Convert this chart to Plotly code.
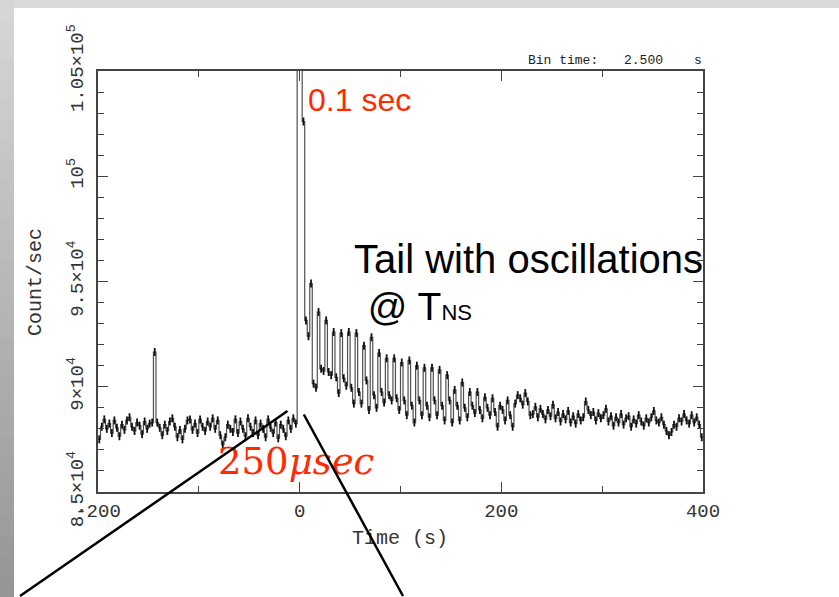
import plotly.graph_objects as go

# ---------------- data ----------------
bin_time = 2.5
t_start = -200.0
# count rates per 2.5 s bin, t = -200 ... 0  (last bin is the saturated peak)
pre_burst = [
    87500, 88100, 88450, 88000, 88250, 87800, 88400, 88050, 87650, 88200,
    87950, 88400, 88550, 88100, 87900, 88300, 88150, 87750, 88350, 88000,
    88250, 88300, 91650, 88300, 88050, 87700, 88200, 87900, 88350, 88500,
    88100, 87600, 87950, 87500, 88000, 88400, 88450, 87950, 88250, 87800,
    88450, 88100, 87900, 88350, 88100, 88500, 88000, 88400, 87700, 87250,
    87600, 88200, 88000, 87850, 88450, 87800, 88350, 88000, 87650, 88500,
    88100, 87800, 88400, 87700, 88250, 88000, 87600, 88450, 88050, 87800,
    88300, 87550, 88200, 88000, 87650, 88400, 88000, 88500, 88250, 150000,
]
# t = 0 ... 400
tail = [
    150000, 102600, 93150, 92400, 94900, 90150, 89950, 93550, 90850, 90750,
    93150, 90700, 90550, 92600, 90450, 89700, 92550, 90400, 90050, 92600,
    89950, 89200, 92550, 89750, 89200, 91950, 90300, 88900, 92350, 89600,
    89000, 91600, 89750, 89250, 91350, 89600, 89350, 91350, 89450, 88900,
    91150, 89350, 88650, 91250, 89100, 88300, 91000, 89350, 88650, 90900,
    89100, 88550, 90900, 89350, 88650, 90800, 89100, 88400, 90550, 89350,
    88300, 89850, 89100, 88400, 90200, 89000, 88550, 89750, 89100, 88750,
    89750, 88900, 88500, 89500, 89000, 88650, 89450, 88800, 88100, 89100,
    88900, 88400, 89350, 88650, 88100, 89200, 89600, 89450, 89150, 89700,
    89300, 88650, 88700, 89050, 88550, 88950, 88700, 88450, 88900, 88600,
    89150, 88500, 88800, 88350, 88700, 88450, 88850, 88300, 88600, 88250,
    88700, 88400, 88550, 89300, 88900, 88650, 88800, 88400, 88750, 88500,
    88650, 88950, 88350, 88600, 88150, 88550, 88300, 88700, 88200, 88500,
    88600, 88100, 88450, 88250, 88650, 88350, 88150, 88500, 88300, 88550,
    88850, 88400, 88300, 88550, 88200, 87900, 87700, 87850, 88200, 88100,
    88500, 88350, 88700, 88400, 88250, 88650, 88300, 88550, 88200, 87600,
]
rate_error = 190  # approximate 1-sigma error per bin (count/s)

x_tickvals = [-200, 0, 200, 400]
x_ticktext = ["-200", "0", "200", "400"]
x_minor_vals = [-100, 100, 300]
y_tickvals = [85000, 90000, 95000, 100000, 105000]
y_ticktext = ["8.5×10<sup>4</sup>", "9×10<sup>4</sup>", "9.5×10<sup>4</sup>",
              "10<sup>5</sup>", "1.05×10<sup>5</sup>"]
y_minor_vals = [v for v in range(86000, 105000, 1000) if v % 5000 != 0]

# ---------------- build ----------------
rates = pre_burst + tail
edges = [t_start + bin_time * i for i in range(len(rates) + 1)]
centers = [t_start + bin_time * (i + 0.5) for i in range(len(rates))]

W, H = 839, 597
L, R, T, B = 98, 703, 71, 492


def px(xp):
    return (xp - L) / (R - L)


def py(yp):
    return (B - yp) / (B - T)


mono = "Liberation Mono"
fig = go.Figure()
fig.add_trace(go.Scatter(
    x=edges, y=rates + [rates[-1]], mode="lines", line_shape="hv",
    line=dict(color="#505050", width=1.2), hoverinfo="skip", showlegend=False))
fig.add_trace(go.Scatter(
    x=centers, y=rates, mode="markers",
    marker=dict(size=1, color="black"),
    error_y=dict(type="constant", value=rate_error, width=0, thickness=1.8, color="#111"),
    hoverinfo="skip", showlegend=False))

axis_common = dict(showgrid=False, zeroline=False, showline=True, linecolor="#444",
                   linewidth=1.5, mirror="ticks", ticks="inside", tickcolor="#444",
                   tickwidth=1.3, tickfont=dict(family=mono, size=19, color="#333"))
fig.update_xaxes(range=[-200, 400], tickmode="array", tickvals=x_tickvals,
                 ticktext=x_ticktext, ticklen=10,
                 minor=dict(ticks="inside", tickmode="array", tickvals=x_minor_vals,
                            ticklen=6, tickcolor="#444", tickwidth=1.3),
                 **axis_common)
fig.update_yaxes(range=[85000, 105000], tickmode="array", tickvals=y_tickvals,
                 ticktext=y_ticktext, tickangle=-90, ticklen=10, ticklabelstandoff=6,
                 minor=dict(ticks="inside", tickmode="array", tickvals=y_minor_vals,
                            ticklen=6, tickcolor="#444", tickwidth=1.3),
                 **axis_common)

ann = []
ann.append(dict(x=px(526), y=py(61), text="Bin time:", xanchor="left", yanchor="middle",
                font=dict(family=mono, size=13, color="#222")))
ann.append(dict(x=px(622), y=py(61), text="2.500", xanchor="left", yanchor="middle",
                font=dict(family=mono, size=13, color="#222")))
ann.append(dict(x=px(704), y=py(61), text="s", xanchor="right", yanchor="middle",
                font=dict(family=mono, size=13, color="#222")))
ann.append(dict(x=px(35), y=py(282), text="Count/sec", textangle=-90, xanchor="center",
                yanchor="middle", font=dict(family=mono, size=20, color="#333")))
ann.append(dict(x=px(400), y=py(538), text="Time (s)", xanchor="center", yanchor="middle",
                font=dict(family=mono, size=20, color="#333")))
ann.append(dict(x=px(306), y=py(100), text="0.1 sec", xanchor="left", yanchor="middle",
                font=dict(family="Liberation Sans", size=32, color="#ff2a00")))
ann.append(dict(x=px(352), y=py(259), text="Tail with oscillations", xanchor="left",
                yanchor="middle", font=dict(family="Liberation Sans", size=40, color="black")))
ann.append(dict(x=px(355), y=py(306),
                text=" @ T<span style='font-size:22px'>NS</span>", xanchor="left",
                yanchor="middle", font=dict(family="Liberation Sans", size=39, color="black")))
ann.append(dict(x=px(216), y=py(461), text="250<i>μsec</i>", xanchor="left",
                yanchor="middle", font=dict(family="DejaVu Serif", size=37, color="#ff2a00")))
for a in ann:
    a.update(xref="paper", yref="paper", showarrow=False)

# zoom lines drawn as arrow-less annotation connectors (not clipped to the plot area)
zoom_lines = [((289, 410), (20, 597)), ((303, 413), (403, 597))]
for (x0, y0), (x1, y1) in zoom_lines:
    ann.append(dict(x=px(x1), y=py(y1), xref="paper", yref="paper", text="",
                    showarrow=True, arrowhead=0, arrowwidth=2.5, arrowcolor="black",
                    axref="pixel", ayref="pixel", ax=x0 - x1, ay=y0 - y1, standoff=0,
                    startstandoff=0))

# slide frame: light top strip and a left strip darkening downward
shapes = []
shapes.append(dict(type="rect", xref="paper", yref="paper", x0=px(0), x1=px(W),
                   y0=py(0), y1=py(8), fillcolor="#dadada", line=dict(width=0)))
n_seg = 30
c_top, c_bot = 214, 150
for j in range(n_seg):
    g = round(c_top + (c_bot - c_top) * j / (n_seg - 1))
    ya, yb = j * H / n_seg, (j + 1) * H / n_seg + 1
    shapes.append(dict(type="rect", xref="paper", yref="paper", x0=px(0), x1=px(14),
                       y0=py(ya), y1=py(yb), fillcolor=f"rgb({g},{g},{g})",
                       line=dict(width=0)))

fig.update_layout(
    width=W, height=H, margin=dict(l=L, r=W - R, t=T, b=H - B),
    paper_bgcolor="white", plot_bgcolor="white",
    annotations=ann, shapes=shapes, showlegend=False,
)
fig.write_html("out.html")
